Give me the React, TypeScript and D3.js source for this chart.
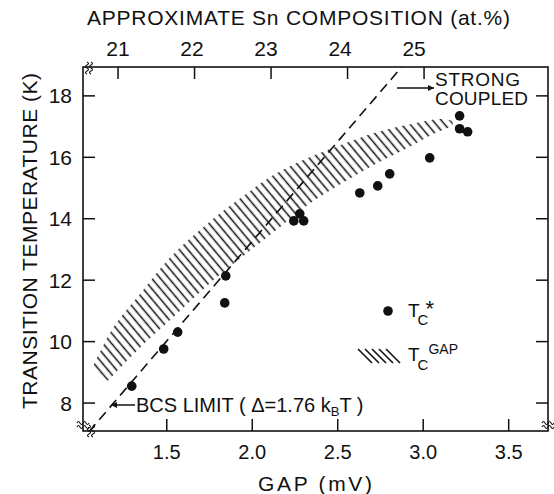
import React from "react";
import * as d3 from "d3";

// ---- data ----
const gapTicks = [1.5, 2.0, 2.5, 3.0, 3.5];
const gapTickLabels = ["1.5", "2.0", "2.5", "3.0", "3.5"];
const tempTicks = [8, 10, 12, 14, 16, 18];
const compTicks = [21, 22, 23, 24, 25];

// T_c* measured points (gap in mV, temperature in K)
const starGap = [1.295, 1.482, 1.564, 1.845, 1.839, 2.243, 2.278, 2.301, 2.629, 2.734, 2.804, 3.038, 3.213, 3.213, 3.26];
const starT = [8.55, 9.76, 10.31, 12.14, 11.26, 13.93, 14.16, 13.93, 14.84, 15.07, 15.46, 15.98, 17.35, 16.93, 16.83];

// T_c^GAP hatched band edges
const bandUpperGap = [1.067, 1.19, 1.348, 1.523, 1.728, 1.933, 2.126, 2.325, 2.518, 2.711, 2.909, 3.102, 3.172];
const bandUpperT = [9.17, 10.48, 11.58, 12.76, 13.8, 14.68, 15.43, 15.98, 16.4, 16.79, 17.06, 17.25, 17.19];
const bandLowerGap = [1.155, 1.33, 1.564, 1.775, 1.933, 2.126, 2.325, 2.518, 2.711, 2.909, 3.061, 3.172];
const bandLowerT = [8.72, 9.73, 10.93, 12.01, 12.72, 13.57, 14.45, 15.13, 15.75, 16.31, 16.76, 17.02];

// BCS limit dashed line end points
const bcsGap = [1.044, 2.874];
const bcsT = [7.06, 18.94];

// ---- layout ----
const W = 554;
const H = 494;
const L = 83, R = 548, T = 67, B = 431;
const FONT = "'Liberation Sans', Arial, sans-serif";

const x = d3.scaleLinear().domain([1.01, 3.73]).range([L, R]);
const y = d3.scaleLinear().domain([7.09, 18.94]).range([B, T]);
const xc = d3.scaleLinear().domain([20.542, 26.62]).range([L, R]);

function Squiggle({ cx, cy, rot }: { cx: number; cy: number; rot: number }) {
  const d1 = "M-6,-2 q1.5,-3 3,0 t3,0 t3,0 t3,0";
  const d2 = "M-6,2 q1.5,-3 3,0 t3,0 t3,0 t3,0";
  return (
    <g transform={`translate(${cx},${cy}) rotate(${rot})`}>
      <path d={d1} fill="none" stroke="#111" strokeWidth={1.1} />
      <path d={d2} fill="none" stroke="#111" strokeWidth={1.1} />
    </g>
  );
}

export default function App() {
  const upper = bandUpperGap.map((g, i) => [x(g), y(bandUpperT[i])] as [number, number]);
  const lower = bandLowerGap.map((g, i) => [x(g), y(bandLowerT[i])] as [number, number]).reverse();
  const line = d3.line().curve(d3.curveCatmullRom.alpha(0.5));
  const bandPath = (line(upper) || "") + (line(lower) || "").replace(/^M/, "L") + "Z";
  const bcsPath = d3.line()(bcsGap.map((g, i) => [x(g), y(bcsT[i])] as [number, number])) || "";

  const tick = 12;
  const stroke = "#111";

  return (
    <svg width={W} height={H} style={{ position: "absolute", left: 0, top: 0, background: "#fff" }}>
      <defs>
        <clipPath id="plotClip">
          <rect x={L} y={T} width={R - L} height={B - T} />
        </clipPath>
        <pattern id="hatch" width={6.6} height={10} patternUnits="userSpaceOnUse" patternTransform="rotate(-40)">
          <line x1={3.3} y1={0} x2={3.3} y2={10} stroke={stroke} strokeWidth={1.5} />
        </pattern>
        <marker id="arrowR" viewBox="0 0 10 10" refX="10" refY="5" markerWidth="8" markerHeight="6" orient="auto" markerUnits="userSpaceOnUse">
          <path d="M0,0 L10,5 L0,10 Z" fill={stroke} />
        </marker>
      </defs>
      <rect x={0} y={0} width={W} height={H} fill="#fff" />

      {/* frame */}
      <rect x={L} y={T} width={R - L} height={B - T} fill="none" stroke={stroke} strokeWidth={1.6} />

      {/* bottom ticks & labels */}
      {gapTicks.map((v, i) => (
        <g key={"gx" + i}>
          <line x1={x(v)} x2={x(v)} y1={B} y2={B - tick} stroke={stroke} strokeWidth={1.5} />
          <text x={x(v)} y={459} textAnchor="middle" fontFamily={FONT} fontSize={20} fill={stroke}>{gapTickLabels[i]}</text>
        </g>
      ))}
      {/* top ticks & labels */}
      {compTicks.map((v, i) => (
        <g key={"cx" + i}>
          <line x1={xc(v)} x2={xc(v)} y1={T} y2={T + tick} stroke={stroke} strokeWidth={1.5} />
          <text x={xc(v) - i * 2.5} y={56} textAnchor="middle" fontFamily={FONT} fontSize={21} fill={stroke}>{v}</text>
        </g>
      ))}
      {/* left & right ticks */}
      {tempTicks.map((v, i) => (
        <g key={"ty" + i}>
          <line x1={L} x2={L + tick} y1={y(v)} y2={y(v)} stroke={stroke} strokeWidth={1.5} />
          <line x1={R} x2={R - tick} y1={y(v)} y2={y(v)} stroke={stroke} strokeWidth={1.5} />
          <text x={72} y={y(v) + 7.5} textAnchor="end" fontFamily={FONT} fontSize={21} fill={stroke}>{v}</text>
        </g>
      ))}

      {/* axis break marks */}
      <Squiggle cx={L + 6} cy={T + 1} rot={-90} />
      <Squiggle cx={L} cy={B - 6} rot={0} />
      <Squiggle cx={L + 8} cy={B} rot={-90} />
      <Squiggle cx={R} cy={B - 6} rot={0} />

      {/* axis titles */}
      <text x={87} y={25} fontFamily={FONT} fontSize={21} fill={stroke} textLength={423} lengthAdjust="spacing">APPROXIMATE Sn COMPOSITION (at.%)</text>
      <text x={258} y={491} fontFamily={FONT} fontSize={21} fill={stroke} textLength={114} lengthAdjust="spacing">GAP (mV)</text>
      <text transform="translate(37,241) rotate(-90)" textAnchor="middle" fontFamily={FONT} fontSize={21} fill={stroke} textLength={336} lengthAdjust="spacing">TRANSITION TEMPERATURE (K)</text>

      <g clipPath="url(#plotClip)">
        {/* hatched band */}
        <path d={bandPath} fill="url(#hatch)" stroke="none" />
        {/* BCS limit dashed */}
        <path d={bcsPath} fill="none" stroke={stroke} strokeWidth={1.6} strokeDasharray="10 6" />
        {/* points */}
        {starGap.map((g, i) => (
          <circle key={"p" + i} cx={x(g)} cy={y(starT[i])} r={4.8} fill={stroke} />
        ))}
      </g>

      {/* annotations */}
      <line x1={397} x2={434} y1={88} y2={88} stroke={stroke} strokeWidth={1.5} markerEnd="url(#arrowR)" />
      <text x={435} y={86} fontFamily={FONT} fontSize={19} fill={stroke} textLength={85} lengthAdjust="spacing">STRONG</text>
      <text x={435} y={105} fontFamily={FONT} fontSize={19} fill={stroke} textLength={93} lengthAdjust="spacing">COUPLED</text>

      <line x1={135} x2={111} y1={405} y2={405} stroke={stroke} strokeWidth={1.5} markerEnd="url(#arrowR)" />
      <text x={136} y={412} fontFamily={FONT} fontSize={20} fill={stroke}>
        BCS LIMIT ( Δ=1.76 k<tspan fontSize={13} dy={4}>B</tspan><tspan dy={-4}>T )</tspan>
      </text>

      {/* legend */}
      <circle cx={388} cy={311} r={4.8} fill={stroke} />
      <text x={408} y={317} fontFamily={FONT} fontSize={19} fill={stroke}>
        T<tspan fontSize={15} dx={-2} dy={8}>C</tspan><tspan fontSize={22} dx={-3} dy={-9}>*</tspan>
      </text>
      {[0, 1, 2, 3, 4].map((k) => (
        <line key={"lh" + k} x1={358 + k * 7} y1={349} x2={372 + k * 7} y2={363} stroke={stroke} strokeWidth={1.6} />
      ))}
      <text x={408} y={361} fontFamily={FONT} fontSize={19} fill={stroke}>
        T<tspan fontSize={15} dx={-2} dy={9}>C</tspan><tspan fontSize={14} dy={-16}>GAP</tspan>
      </text>
    </svg>
  );
}
